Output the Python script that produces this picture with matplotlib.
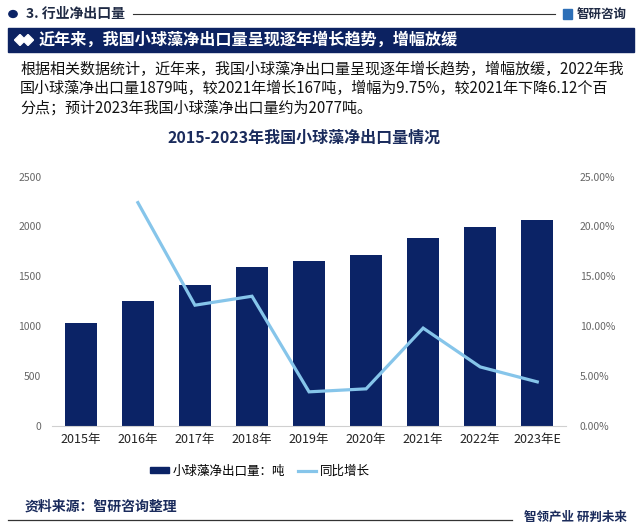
import matplotlib
matplotlib.use("Agg")
import matplotlib.pyplot as plt
from matplotlib.patches import Rectangle, Polygon, Circle
from matplotlib.lines import Line2D
import matplotlib.ticker as mticker

plt.rcParams['font.family'] = ['Noto Sans CJK SC', 'DejaVu Sans']

years = ["2015年", "2016年", "2017年", "2018年", "2019年", "2020年", "2021年", "2022年", "2023年E"]
export_tons = [1035, 1255, 1410, 1595, 1655, 1715, 1880, 1990, 2070]
growth_pct = [None, 22.4, 12.1, 13.0, 3.4, 3.7, 9.8, 5.9, 4.4]

section_title = "3. 行业净出口量"
banner_text = "近年来，我国小球藻净出口量呈现逐年增长趋势，增幅放缓"
para_lines = [
    "根据相关数据统计，近年来，我国小球藻净出口量呈现逐年增长趋势，增幅放缓，2022年我",
    "国小球藻净出口量1879吨，较2021年增长167吨，增幅为9.75%，较2021年下降6.12个百",
    "分点；预计2023年我国小球藻净出口量约为2077吨。",
]
chart_title = "2015-2023年我国小球藻净出口量情况"
legend_labels = ["小球藻净出口量：吨", "同比增长"]
source_text = "资料来源：智研咨询整理"
brand = "智研咨询"
slogan = "智领产业 研判未来"

NAVY = "#0b2366"
LIGHT = "#86c5ea"

W, H = 640, 529
fig = plt.figure(figsize=(6.4, 5.29), dpi=100, facecolor="white")

def fx(px):
    return px / W

def fy(py):
    return 1 - py / H

# Header
fig.patches.append(Circle((fx(13), fy(14)), 0.0065, transform=fig.transFigure, color=NAVY, zorder=3))
fig.text(fx(26), fy(14), section_title, fontsize=10, fontweight="bold", color="#1f2a44", va="center", ha="left")
fig.add_artist(Line2D([fx(133), fx(555)], [fy(14), fy(14)], transform=fig.transFigure, color="#333333", lw=0.8))
fig.text(fx(627), fy(14), brand, fontsize=9, fontweight="bold", color="#1f2a44", va="center", ha="right")
fig.patches.append(Rectangle((fx(563), fy(19)), fx(9), fy(9) - fy(19), transform=fig.transFigure,
                             color="#2d6fb7", zorder=3))

# Banner
fig.patches.append(Rectangle((fx(8), fy(52)), fx(634) - fx(8), fy(28) - fy(52), transform=fig.transFigure,
                             color="#0c2261", zorder=1))
for cx in (20, 28):
    d = 5.5
    fig.patches.append(Polygon([(fx(cx - d), fy(40)), (fx(cx), fy(40 - d)), (fx(cx + d), fy(40)), (fx(cx), fy(40 + d))],
                               closed=True, transform=fig.transFigure, color="white", zorder=3))
fig.text(fx(39), fy(40), banner_text, fontsize=11.6, fontweight="bold", color="white", va="center", ha="left", zorder=4)

# Paragraph
for i, line in enumerate(para_lines):
    fig.text(fx(20), fy(69 + i * 19.5), line, fontsize=10.85, color="#111111", va="center", ha="left")

# Chart title
fig.text(fx(304), fy(138), chart_title, fontsize=11.5, fontweight="bold", color="#1a2b5c", va="center", ha="center")

# Axes
ax = fig.add_axes([fx(52.3), fy(425.7), fx(565.8) - fx(52.3), fy(176.7) - fy(425.7)])
ax.set_facecolor("none")
x = list(range(len(years)))
bars = ax.bar(x, export_tons, width=0.56, color=NAVY, zorder=2)
ax.set_xlim(-0.5, len(years) - 0.5)
ax.set_ylim(0, 2500)
ax.set_yticks([0, 500, 1000, 1500, 2000, 2500])
ax.set_xticks(x)
ax.set_xticklabels(years, fontsize=9, color="#222222")
ax.tick_params(axis="y", length=0, labelsize=7.5, labelcolor="#666666", pad=8)
ax.tick_params(axis="x", length=0, pad=5)
for s in ("top", "right", "left"):
    ax.spines[s].set_visible(False)
ax.spines["bottom"].set_color("#d0d0d0")

ax2 = ax.twinx()
gx = [i for i, g in zip(x, growth_pct) if g is not None]
gy = [g / 100 for g in growth_pct if g is not None]
line, = ax2.plot(gx, gy, color=LIGHT, lw=2.3, zorder=3, solid_joinstyle="miter")
ax2.set_ylim(0, 0.25)
ax2.set_yticks([0, 0.05, 0.10, 0.15, 0.20, 0.25])
ax2.yaxis.set_major_formatter(mticker.FuncFormatter(lambda v, p: f"{v*100:.2f}%"))
ax2.tick_params(axis="y", length=0, labelsize=7.5, labelcolor="#666666", pad=10)
for s in ("top", "right", "left", "bottom"):
    ax2.spines[s].set_visible(False)

# Legend
handles = [Rectangle((0, 0), 1, 1, color=NAVY), Line2D([0], [0], color=LIGHT, lw=2.3)]
fig.legend(handles, legend_labels, loc="center", bbox_to_anchor=(fx(260), fy(471)), ncol=2, frameon=False,
           fontsize=9, handlelength=1.5, handleheight=0.45, handletextpad=0.3, columnspacing=1.0)

# Footer
fig.text(fx(25), fy(507), source_text, fontsize=10, fontweight="bold", color="#1a2b5c", va="center", ha="left")
fig.add_artist(Line2D([fx(8), fx(512)], [fy(520), fy(520)], transform=fig.transFigure, color="#333333", lw=0.9))
fig.text(fx(627), fy(517), slogan, fontsize=9, fontweight="bold", color="#1a2b5c", va="center", ha="right")

fig.savefig("out.png", dpi=100, facecolor="white")
